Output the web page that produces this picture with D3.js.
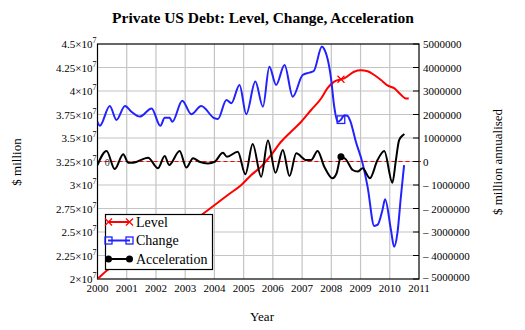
<!DOCTYPE html>
<html>
<head>
<meta charset="utf-8">
<script src="https://cdn.jsdelivr.net/npm/d3@7"></script>
<style>
  body { margin: 0; background: #fff; }
  svg { display: block; font-family: "Liberation Serif", "Times New Roman", serif; }
</style>
</head>
<body>
<svg id="chart" width="525" height="330"></svg>
<script>
// ---- Data ----
const title = "Private US Debt: Level, Change, Acceleration";
const yearTicks = [2000, 2001, 2002, 2003, 2004, 2005, 2006, 2007, 2008, 2009, 2010, 2011];
const leftTicks = [2.0e7, 2.25e7, 2.5e7, 2.75e7, 3.0e7, 3.25e7, 3.5e7, 3.75e7, 4.0e7, 4.25e7, 4.5e7];
const rightTicks = [-5e6, -4e6, -3e6, -2e6, -1e6, 0, 1e6, 2e6, 3e6, 4e6, 5e6];
const seriesNames = ["Level", "Change", "Acceleration"];
const seriesColors = ["#ff0000", "#2222ff", "#000000"];

// Level ($ million)
const levelYears = [2000.0, 2000.3, 2001.5, 2002.5, 2003.55, 2004.01, 2004.46, 2004.92, 2005.26, 2005.6, 2005.94, 2006.28, 2006.62, 2006.97, 2007.31, 2007.65, 2007.87, 2008.1, 2008.33, 2008.44, 2008.78, 2009.01, 2009.24, 2009.47, 2009.7, 2009.92, 2010.15, 2010.38, 2010.55, 2010.65];
const levelValues = [2.0e7, 2.085e7, 2.3e7, 2.48e7, 2.68e7, 2.787e7, 2.894e7, 3.0e7, 3.106e7, 3.195e7, 3.319e7, 3.46e7, 3.567e7, 3.673e7, 3.798e7, 3.92e7, 4.03e7, 4.1e7, 4.125e7, 4.135e7, 4.205e7, 4.22e7, 4.21e7, 4.17e7, 4.117e7, 4.06e7, 4.03e7, 3.96e7, 3.92e7, 3.92e7];

// Change ($ million annualised)
const changeYears = [2000.0, 2000.08, 2000.42, 2000.65, 2000.94, 2001.16, 2001.45, 2001.85, 2002.15, 2002.3, 2002.47, 2002.56, 2002.9, 2003.21, 2003.55, 2004.0, 2004.12, 2004.41, 2004.58, 2004.86, 2005.09, 2005.4, 2005.66, 2005.88, 2006.11, 2006.4, 2006.68, 2007.02, 2007.25, 2007.4, 2007.68, 2007.75, 2007.99, 2008.1, 2008.22, 2008.33, 2008.45, 2008.55, 2008.65, 2008.84, 2009.07, 2009.24, 2009.47, 2009.58, 2009.75, 2009.84, 2010.04, 2010.15, 2010.26, 2010.38, 2010.49];
const changeValues = [1.69e6, 1.52e6, 2.36e6, 1.77e6, 2.36e6, 2.12e6, 1.91e6, 2.26e6, 1.52e6, 1.86e6, 1.86e6, 1.69e6, 2.59e6, 2.01e6, 2.36e6, 1.84e6, 1.81e6, 2.62e6, 2.48e6, 3.26e6, 2.01e6, 3.4e6, 2.33e6, 4.03e6, 3.26e6, 4.11e6, 2.76e6, 3.68e6, 3.78e6, 3.85e6, 4.89e6, 4.8e6, 3.54e6, 2.33e6, 1.69e6, 1.78e6, 1.97e6, 1.95e6, 1.72e6, 0.84e6, -0.08e6, -1.07e6, -2.74e6, -2.7e6, -2.06e6, -1.61e6, -2.91e6, -3.63e6, -3.06e6, -1.5e6, -0.15e6];

// Acceleration ($ million annualised)
const accelYears = [2000.0, 2000.31, 2000.59, 2000.88, 2001.05, 2001.22, 2001.73, 2002.07, 2002.3, 2002.45, 2002.81, 2003.04, 2003.27, 2003.49, 2003.78, 2004.01, 2004.29, 2004.43, 2004.8, 2005.06, 2005.31, 2005.6, 2005.83, 2006.09, 2006.34, 2006.57, 2006.8, 2007.14, 2007.31, 2007.53, 2007.76, 2008.04, 2008.18, 2008.33, 2008.5, 2008.73, 2008.9, 2009.07, 2009.32, 2009.58, 2009.81, 2010.09, 2010.21, 2010.32, 2010.46, 2010.5];
const accelValues = [-0.15e6, 0.45e6, -0.32e6, 0.31e6, -0.05e6, -0.05e6, 0.16e6, -0.29e6, 0.23e6, -0.15e6, 0.45e6, -0.26e6, 0.14e6, -0.01e6, -0.08e6, -0.01e6, 0.37e6, 0.2e6, 0.42e6, -0.54e6, 0.74e6, -0.65e6, 0.89e6, -0.48e6, 0.49e6, -0.62e6, 0.35e6, 0.06e6, 0.06e6, 0.45e6, -0.22e6, -0.71e6, -0.5e6, 0.2e6, 0.09e6, -0.36e6, -0.43e6, -0.29e6, -0.71e6, 0.06e6, 0.45e6, -0.9e6, 0.06e6, 0.91e6, 1.13e6, 1.17e6];

const markerYear = 2008.33;

// ---- Layout ----
const svg = d3.select("#chart");
const L = 97.5, R = 419, T = 44, B = 279;
const x = d3.scaleLinear().domain([2000, 2011]).range([L, R]);
const yL = d3.scaleLinear().domain([2.0e7, 4.5e7]).range([B, T]);
const yR = d3.scaleLinear().domain([-5e6, 5e6]).range([B, T]);

svg.append("rect").attr("width", 525).attr("height", 330).attr("fill", "#fff");

// gridlines
const grid = svg.append("g").attr("stroke", "#c4c4c4").attr("stroke-width", 1.2);
grid.selectAll("line.v").data(yearTicks.slice(1, -1)).join("line")
  .attr("x1", d => x(d)).attr("x2", d => x(d)).attr("y1", T).attr("y2", B);
grid.selectAll("line.h").data(leftTicks.slice(1, -1)).join("line")
  .attr("x1", L).attr("x2", R).attr("y1", d => yL(d)).attr("y2", d => yL(d));

// zero reference line
svg.append("line").attr("x1", L).attr("x2", R + 2).attr("y1", yR(0)).attr("y2", yR(0))
  .attr("stroke", "#ff0000").attr("stroke-width", 1.2).attr("stroke-dasharray", "4,3");
svg.append("text").attr("x", x(2000.25)).attr("y", yR(0) + 4).attr("font-size", 10)
  .attr("fill", "#333").text("0");

// axes frame
svg.append("rect").attr("x", L).attr("y", T).attr("width", R - L).attr("height", B - T)
  .attr("fill", "none").attr("stroke", "#000").attr("stroke-width", 1.2);

// right axis ticks
svg.append("g").selectAll("line").data(rightTicks).join("line")
  .attr("x1", R - 6).attr("x2", R).attr("y1", d => yR(d)).attr("y2", d => yR(d))
  .attr("stroke", "#000").attr("stroke-width", 1);

// left tick labels
const fmtL = d => String(+(d / 1e7).toFixed(2));
const lt = svg.append("g").attr("font-size", 11).attr("fill", "#000");
lt.selectAll("text").data(leftTicks).join("text")
  .attr("x", L - 1).attr("y", d => yL(d) + 4).attr("text-anchor", "end")
  .each(function(d) {
    const t = d3.select(this);
    t.append("tspan").text(fmtL(d) + "×10");
    t.append("tspan").attr("dy", -5).attr("font-size", 8).text("7");
  });

// right tick labels
const rt = svg.append("g").attr("font-size", 11).attr("fill", "#000");
rt.selectAll("text").data(rightTicks).join("text")
  .attr("x", R + 4).attr("y", d => yR(d) + (d === -5e6 ? 1.5 : 4))
  .text(d => d < 0 ? "\u2013 " + Math.abs(d) : String(d));

// x tick labels
svg.append("g").attr("font-size", 11).selectAll("text").data(yearTicks).join("text")
  .attr("x", d => x(d)).attr("y", B + 13).attr("text-anchor", "middle").text(d => d);

// axis titles
svg.append("text").attr("x", 262).attr("y", 321).attr("text-anchor", "middle")
  .attr("font-size", 13).text("Year");
svg.append("text").attr("transform", "translate(21,162) rotate(-90)").attr("text-anchor", "middle")
  .attr("font-size", 13).text("$ million");
svg.append("text").attr("transform", "translate(502,162) rotate(-90)").attr("text-anchor", "middle")
  .attr("font-size", 13).text("$ million annualised");

// title
svg.append("text").attr("x", 263).attr("y", 23).attr("text-anchor", "middle")
  .attr("font-size", 15.5).attr("font-weight", "bold").text(title);

// series
const clip = svg.append("clipPath").attr("id", "clip").append("rect")
  .attr("x", L).attr("y", T).attr("width", R - L).attr("height", B - T);
const plot = svg.append("g").attr("clip-path", "url(#clip)");

const levelData = levelYears.map((yr, i) => [yr, levelValues[i]]);
const changeData = changeYears.map((yr, i) => [yr, changeValues[i]]);
const accelData = accelYears.map((yr, i) => [yr, accelValues[i]]);

const lineL = d3.line().x(d => x(d[0])).y(d => yL(d[1])).curve(d3.curveMonotoneX);
const lineR = d3.line().x(d => x(d[0])).y(d => yR(d[1])).curve(d3.curveMonotoneX);

plot.append("path").datum(levelData).attr("d", lineL).attr("fill", "none")
  .attr("stroke", seriesColors[0]).attr("stroke-width", 2);
plot.append("path").datum(changeData).attr("d", lineR).attr("fill", "none")
  .attr("stroke", seriesColors[1]).attr("stroke-width", 2);
plot.append("path").datum(accelData).attr("d", lineR).attr("fill", "none")
  .attr("stroke", seriesColors[2]).attr("stroke-width", 2);

// trace markers
const mL = levelData.find(d => d[0] === markerYear);
const mC = changeData.find(d => d[0] === markerYear);
const mA = accelData.find(d => d[0] === markerYear);
function drawX(g, cx, cy, s, col) {
  g.append("path").attr("d", `M${cx - s},${cy - s}L${cx + s},${cy + s}M${cx - s},${cy + s}L${cx + s},${cy - s}`)
    .attr("stroke", col).attr("stroke-width", 1.2).attr("fill", "none");
}
function drawSq(g, cx, cy, s, col) {
  g.append("rect").attr("x", cx - s).attr("y", cy - s).attr("width", 2 * s).attr("height", 2 * s)
    .attr("fill", "none").attr("stroke", col).attr("stroke-width", 1.3);
}
function drawDot(g, cx, cy, r, col) {
  g.append("circle").attr("cx", cx).attr("cy", cy).attr("r", r).attr("fill", col);
}
drawX(plot, x(mL[0]), yL(mL[1]), 3.5, seriesColors[0]);
drawSq(plot, x(mC[0]), yR(mC[1]), 3.8, seriesColors[1]);
drawDot(plot, x(mA[0]), yR(mA[1]), 3.5, seriesColors[2]);

// legend
const lg = svg.append("g");
lg.append("rect").attr("x", 105.5).attr("y", 214.5).attr("width", 107).attr("height", 55)
  .attr("fill", "#fff").attr("stroke", "#000").attr("stroke-width", 1.2);
seriesNames.forEach((name, i) => {
  const cy = 222 + i * 18.5;
  const col = seriesColors[i];
  lg.append("line").attr("x1", 108).attr("x2", 130).attr("y1", cy).attr("y2", cy)
    .attr("stroke", col).attr("stroke-width", 2);
  [108.5, 129.5].forEach(cx => {
    if (i === 0) drawX(lg, cx, cy, 3.5, col);
    else if (i === 1) drawSq(lg, cx, cy, 3.5, col);
    else drawDot(lg, cx, cy, 3.5, col);
  });
  lg.append("text").attr("x", 136).attr("y", cy + 4.5).attr("font-size", 14).text(name);
});
</script>
</body>
</html>
